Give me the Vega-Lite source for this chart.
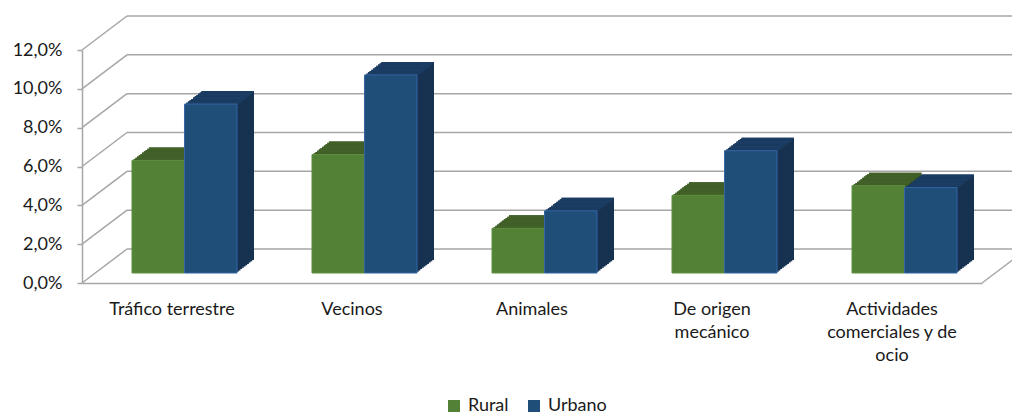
{
  "$schema": "https://vega.github.io/schema/vega-lite/v6.json",
  "width": 900,
  "height": 233,
  "autosize": {"type": "none"},
  "padding": {"left": 82, "top": 50, "right": 30, "bottom": 134},
  "background": "white",
  "config": {
    "view": {"stroke": null},
    "font": "Lato",
    "axis": {"labelFont": "Lato", "labelFontSize": 18, "labelColor": "#1a1a1a"}
  },
  "datasets": {
    "bars": [
      {"cat": "Tráfico terrestre", "series": "Rural", "value": 0.058},
      {"cat": "Tráfico terrestre", "series": "Urbano", "value": 0.087},
      {"cat": "Vecinos", "series": "Rural", "value": 0.061},
      {"cat": "Vecinos", "series": "Urbano", "value": 0.102},
      {"cat": "Animales", "series": "Rural", "value": 0.023},
      {"cat": "Animales", "series": "Urbano", "value": 0.032},
      {"cat": "De origen mecánico", "series": "Rural", "value": 0.040},
      {"cat": "De origen mecánico", "series": "Urbano", "value": 0.063},
      {"cat": "Actividades comerciales y de ocio", "series": "Rural", "value": 0.045},
      {"cat": "Actividades comerciales y de ocio", "series": "Urbano", "value": 0.044}
    ],
    "ticks": [
      {"value": 0}, {"value": 0.02}, {"value": 0.04}, {"value": 0.06},
      {"value": 0.08}, {"value": 0.1}, {"value": 0.12}
    ]
  },
  "data": {"name": "bars"},
  "encoding": {
    "x": {
      "field": "cat", "type": "nominal", "sort": null, "title": null,
      "scale": {"paddingInner": 0.4167, "paddingOuter": 0.2083},
      "axis": {
        "labelAngle": 0, "ticks": false, "domainColor": "#A6A6A6", "domainWidth": 1.5,
        "labelPadding": 17, "labelBaseline": "top", "labelLineHeight": 23, "labelLimit": 300,
        "labelExpr": "datum.label == 'De origen mecánico' ? ['De origen', 'mecánico'] : datum.label == 'Actividades comerciales y de ocio' ? ['Actividades', 'comerciales y de', 'ocio'] : datum.label"
      }
    },
    "y": {
      "field": "value", "type": "quantitative", "stack": null, "title": null,
      "scale": {"domain": [0, 0.12], "nice": false, "zero": true},
      "axis": {
        "values": [0, 0.02, 0.04, 0.06, 0.08, 0.1, 0.12],
        "grid": false, "domainColor": "#A6A6A6", "domainWidth": 1.5,
        "tickColor": "#A6A6A6", "tickSize": 5, "tickWidth": 1.5, "labelPadding": 15,
        "labelExpr": "replace(format(datum.value, '.1%'), '.', ',')"
      }
    }
  },
  "layer": [
    {
      "data": {"name": "ticks"},
      "mark": {"type": "rule", "color": "#A6A6A6", "strokeWidth": 1.5, "yOffset": -34},
      "encoding": {"x": {"value": 45}, "x2": {"value": 945}}
    },
    {
      "data": {"name": "ticks"},
      "mark": {"type": "rule", "color": "#A6A6A6", "strokeWidth": 1.5, "y2Offset": -34},
      "encoding": {"x": {"value": 0}, "x2": {"value": 45}, "y2": {"field": "value"}}
    },
    {
      "data": {"name": "ticks"},
      "transform": [{"filter": "datum.value == 0"}],
      "mark": {"type": "rule", "color": "#A6A6A6", "strokeWidth": 1.5, "y2Offset": -34},
      "encoding": {"x": {"value": 900}, "x2": {"value": 945}, "y2": {"field": "value"}}
    },
    {
      "transform": [{"filter": "datum.series == 'Rural'"}],
      "layer": [
        {"mark": {"type": "bar", "color": "#3A5A22", "width": 52.5, "xOffset": -12.05, "yOffset": -11.3, "y2Offset": -11.3}, "encoding": {"y2": {"datum": 0}}},
        {"mark": {"type": "bar", "color": "#3A5A22", "width": 52.5, "xOffset": -10.35, "yOffset": -12.6, "y2Offset": -12.6}, "encoding": {"y2": {"datum": 0}}},
        {"mark": {"type": "bar", "color": "#3A5A22", "width": 52.5, "xOffset": -8.65, "yOffset": -13.9, "y2Offset": -13.9}, "encoding": {"y2": {"datum": 0}}},
        {"mark": {"type": "bar", "color": "#3A5A22", "width": 52.5, "xOffset": -6.95, "yOffset": -15.2, "y2Offset": -15.2}, "encoding": {"y2": {"datum": 0}}},
        {"mark": {"type": "bar", "color": "#3A5A22", "width": 52.5, "xOffset": -5.25, "yOffset": -16.5, "y2Offset": -16.5}, "encoding": {"y2": {"datum": 0}}},
        {"mark": {"type": "bar", "color": "#3A5A22", "width": 52.5, "xOffset": -3.55, "yOffset": -17.8, "y2Offset": -17.8}, "encoding": {"y2": {"datum": 0}}},
        {"mark": {"type": "bar", "color": "#3A5A22", "width": 52.5, "xOffset": -1.85, "yOffset": -19.1, "y2Offset": -19.1}, "encoding": {"y2": {"datum": 0}}},
        {"mark": {"type": "bar", "color": "#3A5A22", "width": 52.5, "xOffset": -0.15, "yOffset": -20.4, "y2Offset": -20.4}, "encoding": {"y2": {"datum": 0}}},
        {"mark": {"type": "bar", "color": "#3A5A22", "width": 52.5, "xOffset": 1.55, "yOffset": -21.7, "y2Offset": -21.7}, "encoding": {"y2": {"datum": 0}}},
        {"mark": {"type": "bar", "color": "#3A5A22", "width": 52.5, "xOffset": 3.25, "yOffset": -23, "y2Offset": -23}, "encoding": {"y2": {"datum": 0}}},
        {"mark": {"type": "bar", "color": "#416128", "width": 52.5, "xOffset": -12.05, "yOffset": -11.3, "y2Offset": -9.7}, "encoding": {"y2": {"field": "value"}}},
        {"mark": {"type": "bar", "color": "#416128", "width": 52.5, "xOffset": -10.35, "yOffset": -12.6, "y2Offset": -11.0}, "encoding": {"y2": {"field": "value"}}},
        {"mark": {"type": "bar", "color": "#416128", "width": 52.5, "xOffset": -8.65, "yOffset": -13.9, "y2Offset": -12.3}, "encoding": {"y2": {"field": "value"}}},
        {"mark": {"type": "bar", "color": "#416128", "width": 52.5, "xOffset": -6.95, "yOffset": -15.2, "y2Offset": -13.6}, "encoding": {"y2": {"field": "value"}}},
        {"mark": {"type": "bar", "color": "#416128", "width": 52.5, "xOffset": -5.25, "yOffset": -16.5, "y2Offset": -14.9}, "encoding": {"y2": {"field": "value"}}},
        {"mark": {"type": "bar", "color": "#416128", "width": 52.5, "xOffset": -3.55, "yOffset": -17.8, "y2Offset": -16.2}, "encoding": {"y2": {"field": "value"}}},
        {"mark": {"type": "bar", "color": "#416128", "width": 52.5, "xOffset": -1.85, "yOffset": -19.1, "y2Offset": -17.5}, "encoding": {"y2": {"field": "value"}}},
        {"mark": {"type": "bar", "color": "#416128", "width": 52.5, "xOffset": -0.15, "yOffset": -20.4, "y2Offset": -18.8}, "encoding": {"y2": {"field": "value"}}},
        {"mark": {"type": "bar", "color": "#416128", "width": 52.5, "xOffset": 1.55, "yOffset": -21.7, "y2Offset": -20.1}, "encoding": {"y2": {"field": "value"}}},
        {"mark": {"type": "bar", "color": "#416128", "width": 52.5, "xOffset": 3.25, "yOffset": -23, "y2Offset": -21.4}, "encoding": {"y2": {"field": "value"}}},
        {
          "mark": {"type": "bar", "width": 52.5, "xOffset": -13.75, "yOffset": -10, "y2Offset": -10, "stroke": "#5F8F40", "strokeWidth": 1},
          "encoding": {
            "y2": {"datum": 0},
            "color": {
              "field": "series", "type": "nominal",
              "scale": {"domain": ["Rural", "Urbano"], "range": ["#538135", "#1F4E79"]},
              "legend": {"orient": "none", "legendX": 363, "legendY": 347, "direction": "horizontal", "title": null, "symbolType": "square", "symbolSize": 144, "symbolStrokeWidth": 0, "labelFontSize": 18, "labelFont": "Lato", "labelColor": "#1a1a1a", "columnPadding": 16, "labelOffset": 5, "padding": 0}
            }
          }
        }
      ]
    },
    {
      "transform": [{"filter": "datum.series == 'Urbano'"}],
      "layer": [
        {"mark": {"type": "bar", "color": "#173250", "width": 52.5, "xOffset": 40.45, "yOffset": -11.3, "y2Offset": -11.3}, "encoding": {"y2": {"datum": 0}}},
        {"mark": {"type": "bar", "color": "#173250", "width": 52.5, "xOffset": 42.15, "yOffset": -12.6, "y2Offset": -12.6}, "encoding": {"y2": {"datum": 0}}},
        {"mark": {"type": "bar", "color": "#173250", "width": 52.5, "xOffset": 43.85, "yOffset": -13.9, "y2Offset": -13.9}, "encoding": {"y2": {"datum": 0}}},
        {"mark": {"type": "bar", "color": "#173250", "width": 52.5, "xOffset": 45.55, "yOffset": -15.2, "y2Offset": -15.2}, "encoding": {"y2": {"datum": 0}}},
        {"mark": {"type": "bar", "color": "#173250", "width": 52.5, "xOffset": 47.25, "yOffset": -16.5, "y2Offset": -16.5}, "encoding": {"y2": {"datum": 0}}},
        {"mark": {"type": "bar", "color": "#173250", "width": 52.5, "xOffset": 48.95, "yOffset": -17.8, "y2Offset": -17.8}, "encoding": {"y2": {"datum": 0}}},
        {"mark": {"type": "bar", "color": "#173250", "width": 52.5, "xOffset": 50.65, "yOffset": -19.1, "y2Offset": -19.1}, "encoding": {"y2": {"datum": 0}}},
        {"mark": {"type": "bar", "color": "#173250", "width": 52.5, "xOffset": 52.35, "yOffset": -20.4, "y2Offset": -20.4}, "encoding": {"y2": {"datum": 0}}},
        {"mark": {"type": "bar", "color": "#173250", "width": 52.5, "xOffset": 54.05, "yOffset": -21.7, "y2Offset": -21.7}, "encoding": {"y2": {"datum": 0}}},
        {"mark": {"type": "bar", "color": "#173250", "width": 52.5, "xOffset": 55.75, "yOffset": -23, "y2Offset": -23}, "encoding": {"y2": {"datum": 0}}},
        {"mark": {"type": "bar", "color": "#1B3D63", "width": 52.5, "xOffset": 40.45, "yOffset": -11.3, "y2Offset": -9.7}, "encoding": {"y2": {"field": "value"}}},
        {"mark": {"type": "bar", "color": "#1B3D63", "width": 52.5, "xOffset": 42.15, "yOffset": -12.6, "y2Offset": -11.0}, "encoding": {"y2": {"field": "value"}}},
        {"mark": {"type": "bar", "color": "#1B3D63", "width": 52.5, "xOffset": 43.85, "yOffset": -13.9, "y2Offset": -12.3}, "encoding": {"y2": {"field": "value"}}},
        {"mark": {"type": "bar", "color": "#1B3D63", "width": 52.5, "xOffset": 45.55, "yOffset": -15.2, "y2Offset": -13.6}, "encoding": {"y2": {"field": "value"}}},
        {"mark": {"type": "bar", "color": "#1B3D63", "width": 52.5, "xOffset": 47.25, "yOffset": -16.5, "y2Offset": -14.9}, "encoding": {"y2": {"field": "value"}}},
        {"mark": {"type": "bar", "color": "#1B3D63", "width": 52.5, "xOffset": 48.95, "yOffset": -17.8, "y2Offset": -16.2}, "encoding": {"y2": {"field": "value"}}},
        {"mark": {"type": "bar", "color": "#1B3D63", "width": 52.5, "xOffset": 50.65, "yOffset": -19.1, "y2Offset": -17.5}, "encoding": {"y2": {"field": "value"}}},
        {"mark": {"type": "bar", "color": "#1B3D63", "width": 52.5, "xOffset": 52.35, "yOffset": -20.4, "y2Offset": -18.8}, "encoding": {"y2": {"field": "value"}}},
        {"mark": {"type": "bar", "color": "#1B3D63", "width": 52.5, "xOffset": 54.05, "yOffset": -21.7, "y2Offset": -20.1}, "encoding": {"y2": {"field": "value"}}},
        {"mark": {"type": "bar", "color": "#1B3D63", "width": 52.5, "xOffset": 55.75, "yOffset": -23, "y2Offset": -21.4}, "encoding": {"y2": {"field": "value"}}},
        {
          "mark": {"type": "bar", "width": 52.5, "xOffset": 38.75, "yOffset": -10, "y2Offset": -10, "stroke": "#3465A4", "strokeWidth": 1},
          "encoding": {
            "y2": {"datum": 0},
            "color": {
              "field": "series", "type": "nominal",
              "scale": {"domain": ["Rural", "Urbano"], "range": ["#538135", "#1F4E79"]},
              "legend": {"orient": "none", "legendX": 363, "legendY": 347, "direction": "horizontal", "title": null, "symbolType": "square", "symbolSize": 144, "symbolStrokeWidth": 0, "labelFontSize": 18, "labelFont": "Lato", "labelColor": "#1a1a1a", "columnPadding": 16, "labelOffset": 5, "padding": 0}
            }
          }
        }
      ]
    }
  ]
}
